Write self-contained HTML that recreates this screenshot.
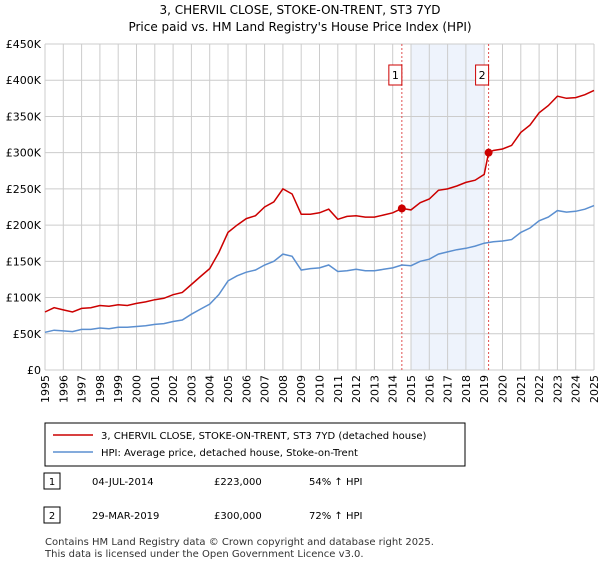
<!DOCTYPE html>
<html><head><meta charset="utf-8"><style>
body{margin:0;background:#fff;font-family:"Liberation Sans",sans-serif;}
svg text{font-family:"DejaVu Sans","Liberation Sans",sans-serif;}
</style></head><body>
<svg id="c" width="600" height="560" xmlns="http://www.w3.org/2000/svg">
<text x="300" y="14" text-anchor="middle" font-size="12" fill="#000">3, CHERVIL CLOSE, STOKE-ON-TRENT, ST3 7YD</text>
<text x="300" y="31" text-anchor="middle" font-size="12" fill="#000">Price paid vs. HM Land Registry's House Price Index (HPI)</text>
<g id="grid"></g><g id="marks"></g><g id="axes"></g>
<rect x="45" y="423" width="420" height="43" fill="#fff" stroke="#000" stroke-width="1"/>
<line x1="53" y1="435" x2="93" y2="435" stroke="#cc0000" stroke-width="1.5"/>
<text x="101" y="439" font-size="10">3, CHERVIL CLOSE, STOKE-ON-TRENT, ST3 7YD (detached house)</text>
<line x1="53" y1="452" x2="93" y2="452" stroke="#5b8fd0" stroke-width="1.5"/>
<text x="101" y="456" font-size="10">HPI: Average price, detached house, Stoke-on-Trent</text>
<rect x="44" y="473" width="16" height="16" fill="#fff" stroke="#000"/>
<text x="52" y="485" font-size="10" text-anchor="middle">1</text>
<text x="92" y="485" font-size="10">04-JUL-2014</text>
<text x="214" y="485" font-size="10">£223,000</text>
<text x="309" y="485" font-size="10">54% ↑ HPI</text>
<rect x="44" y="507" width="16" height="16" fill="#fff" stroke="#000"/>
<text x="52" y="519" font-size="10" text-anchor="middle">2</text>
<text x="92" y="519" font-size="10">29-MAR-2019</text>
<text x="214" y="519" font-size="10">£300,000</text>
<text x="309" y="519" font-size="10">72% ↑ HPI</text>
<text x="45" y="545" font-size="10" fill="#333">Contains HM Land Registry data © Crown copyright and database right 2025.</text>
<text x="45" y="557" font-size="10" fill="#333">This data is licensed under the Open Government Licence v3.0.</text>
</svg>
<script>
const hpiYears=[1995,1995.5,1996,1996.5,1997,1997.5,1998,1998.5,1999,1999.5,2000,2000.5,2001,2001.5,2002,2002.5,2003,2003.5,2004,2004.5,2005,2005.5,2006,2006.5,2007,2007.5,2008,2008.5,2009,2009.5,2010,2010.5,2011,2011.5,2012,2012.5,2013,2013.5,2014,2014.5,2015,2015.5,2016,2016.5,2017,2017.5,2018,2018.5,2019,2019.5,2020,2020.5,2021,2021.5,2022,2022.5,2023,2023.5,2024,2024.5,2025];
const hpiValues=[52,55,54,53,56,56,58,57,59,59,60,61,63,64,67,69,77,84,91,104,123,130,135,138,145,150,160,157,138,140,141,145,136,137,139,137,137,139,141,145,144,150,153,160,163,166,168,171,175,177,178,180,190,196,206,211,220,218,219,222,227];
const priceYears=[1995,1995.5,1996,1996.5,1997,1997.5,1998,1998.5,1999,1999.5,2000,2000.5,2001,2001.5,2002,2002.5,2003,2003.5,2004,2004.5,2005,2005.5,2006,2006.5,2007,2007.5,2008,2008.5,2009,2009.5,2010,2010.5,2011,2011.5,2012,2012.5,2013,2013.5,2014,2014.5,2015,2015.5,2016,2016.5,2017,2017.5,2018,2018.5,2019,2019.24,2019.5,2020,2020.5,2021,2021.5,2022,2022.5,2023,2023.5,2024,2024.5,2025];
const priceValues=[80,86,83,80,85,86,89,88,90,89,92,94,97,99,104,107,118,129,140,162,190,200,209,213,225,232,250,243,215,215,217,222,208,212,213,211,211,214,217,223,221,231,236,248,250,254,259,262,270,300,303,305,310,328,338,355,365,378,375,376,380,386];
const saleYears=[2014.5,2019.24];
const saleValues=[223,300];
const saleLabels=["1","2"];
const yTicks=[0,50,100,150,200,250,300,350,400,450];
const yTickLabels=["£0","£50K","£100K","£150K","£200K","£250K","£300K","£350K","£400K","£450K"];
const xTicks=[1995,1996,1997,1998,1999,2000,2001,2002,2003,2004,2005,2006,2007,2008,2009,2010,2011,2012,2013,2014,2015,2016,2017,2018,2019,2020,2021,2022,2023,2024,2025];
const bandRange=[2015,2019];
const L=45,R=594,T=44,B=370;
const xs=y=>L+(y-1995)/(2025-1995)*(R-L);
const ys=v=>B-v/450*(B-T);
const NS="http://www.w3.org/2000/svg";
function mk(par,tag,attrs){const e=document.createElementNS(NS,tag);for(const k in attrs)e.setAttribute(k,attrs[k]);document.getElementById(par).appendChild(e);return e;}
let band=mk('grid','rect',{x:xs(bandRange[0]),y:T,width:xs(bandRange[1])-xs(bandRange[0]),height:B-T,fill:'#eef3fc'});


xTicks.forEach(t=>{let l=mk('grid','line',{x1:xs(t),x2:xs(t),y1:T,y2:B,stroke:'#ccc','stroke-width':1});


let tx=mk('axes','text',{x:0,y:0,'font-size':11,'text-anchor':'end',transform:`translate(${xs(t)+4},${B+5}) rotate(-90)`});tx.textContent=t;

});
yTicks.forEach((t,i)=>{let l=mk('grid','line',{x1:L,x2:R,y1:ys(t),y2:ys(t),stroke:'#ccc','stroke-width':1});


let tx=mk('axes','text',{x:L-4,y:ys(t)+4,'font-size':11,'text-anchor':'end'});tx.textContent=yTickLabels[i];

});
saleYears.forEach((s,i)=>{let l=mk('marks','line',{x1:xs(s),x2:xs(s),y1:T,y2:B,stroke:'#e05050','stroke-width':1,'stroke-dasharray':'2,2'});


let b=mk('marks','rect',{x:xs(s)-13,y:65,width:13,height:20,fill:'#fff',stroke:'#cc0000'});


let t=mk('marks','text',{x:xs(s)-6.5,y:79,'font-size':11,'text-anchor':'middle'});t.textContent=saleLabels[i];

});
function path(xa,va){return xa.map((x,i)=>(i?'L':'M')+xs(x).toFixed(1)+','+ys(va[i]).toFixed(1)).join('');}
let hp=mk('marks','path',{d:path(hpiYears,hpiValues),fill:'none',stroke:'#5b8fd0','stroke-width':1.5});


let pp=mk('marks','path',{d:path(priceYears,priceValues),fill:'none',stroke:'#cc0000','stroke-width':1.5});


saleYears.forEach((s,i)=>{let c=mk('marks','circle',{cx:xs(s),cy:ys(saleValues[i]),r:4,fill:'#cc0000'});

});
</script>
</body></html>
